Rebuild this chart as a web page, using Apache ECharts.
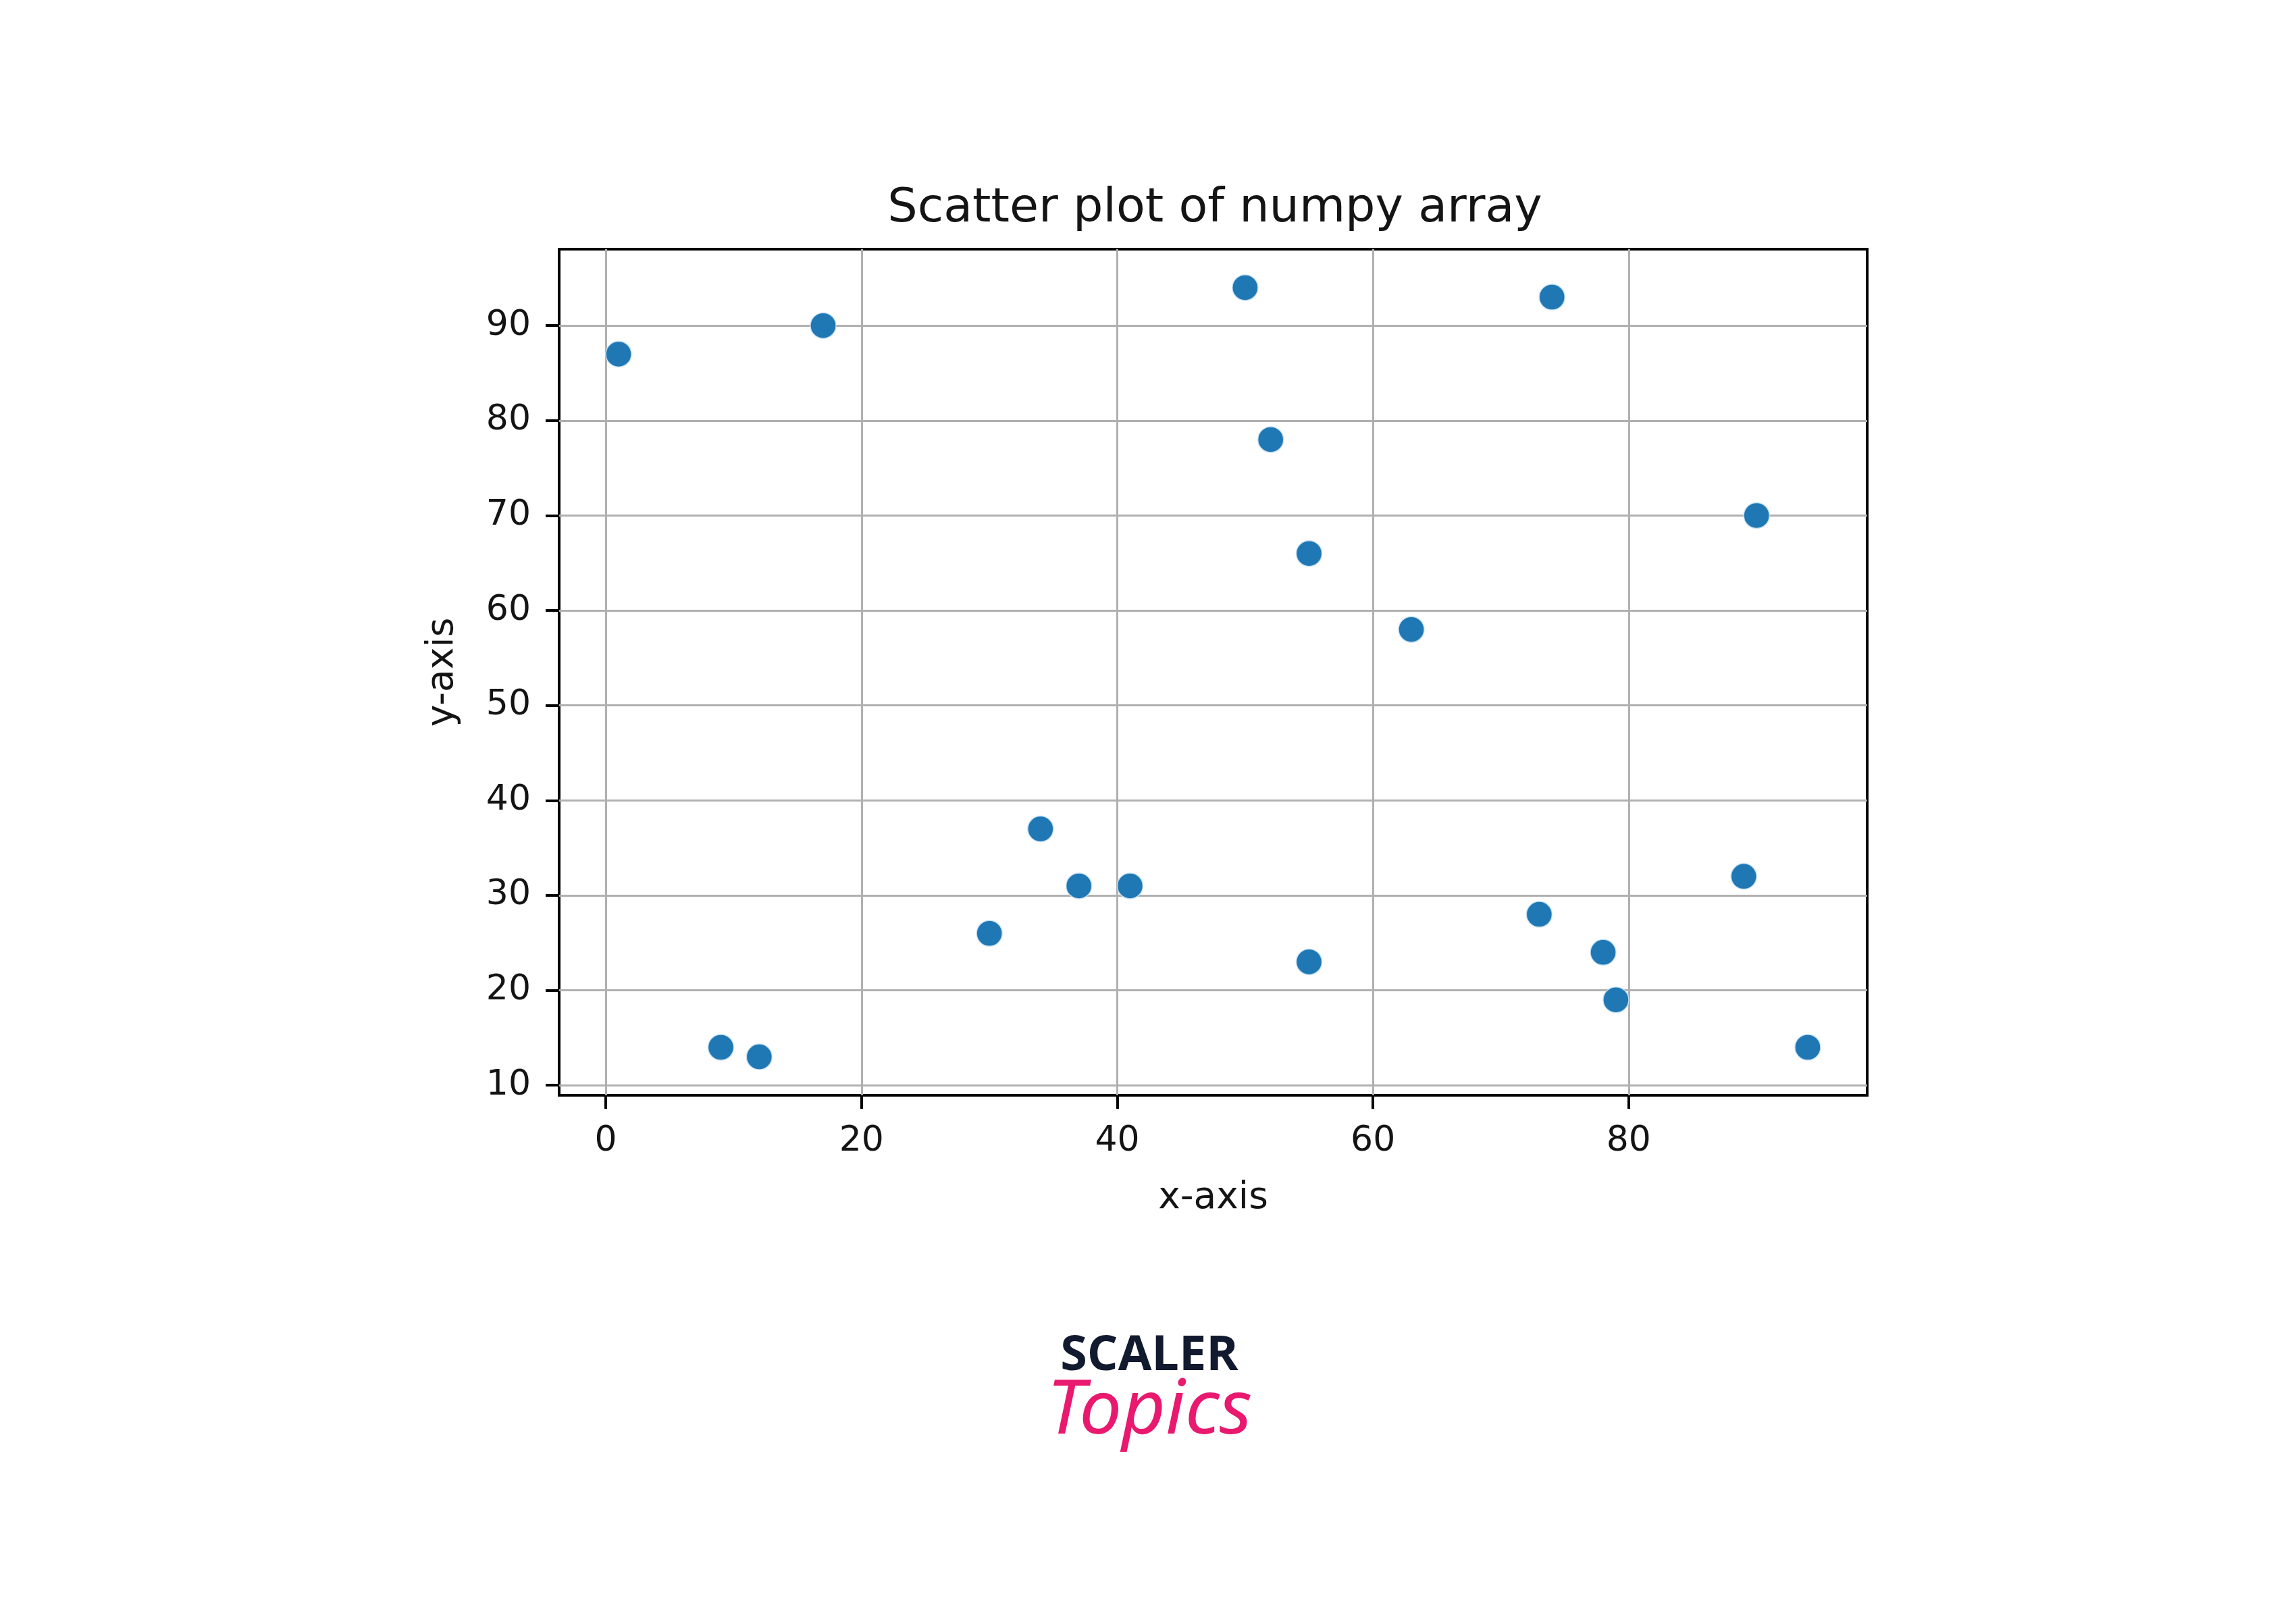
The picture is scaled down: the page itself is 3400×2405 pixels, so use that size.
<!DOCTYPE html>
<html>
<head>
<meta charset="utf-8">
<script src="https://cdn.jsdelivr.net/npm/echarts@6/dist/echarts.min.js"></script>
<style>html,body{margin:0;padding:0;background:#fff}#c{width:3400px;height:2405px}</style>
</head>
<body>
<div id="c"></div>
<script>
const xValues = [1, 9, 12, 17, 30, 34, 37, 41, 50, 52, 55, 55, 63, 73, 74, 78, 79, 89, 90, 94];
const yValues = [87, 14, 13, 90, 26, 37, 31, 31, 94, 78, 66, 23, 58, 28, 93, 24, 19, 32, 70, 14];
const xTicks = [0, 20, 40, 60, 80];
const yTicks = [10, 20, 30, 40, 50, 60, 70, 80, 90];
const titleText = 'Scatter plot of numpy array';
const xName = 'x-axis';
const yName = 'y-axis';

const points = xValues.map((x, i) => [x, yValues[i]]);
const font = 'DejaVu Sans';
const txt = '#141414';

const chart = echarts.init(document.getElementById('c'), null, {renderer: 'canvas'});
chart.setOption({
  backgroundColor: '#fff',
  animation: false,
  title: {
    text: titleText,
    left: 1794,
    top: 270,
    textAlign: 'center',
    textStyle: {fontFamily: font, fontSize: 70, fontWeight: 'normal', color: txt}
  },
  grid: {
    left: 828, right: 635, top: 369, bottom: 783,
    show: true, borderColor: '#000', borderWidth: 4, backgroundColor: 'transparent'
  },
  xAxis: {
    type: 'value', min: -3.65, max: 98.65, splitNumber: 5,
    name: xName, nameLocation: 'middle', nameGap: 125,
    nameTextStyle: {fontFamily: font, fontSize: 55, color: txt},
    axisLine: {show: false, onZero: false},
    axisTick: {show: true, customValues: xTicks, length: 20, lineStyle: {color: '#000', width: 4}},
    axisLabel: {customValues: xTicks, fontFamily: font, fontSize: 52, color: txt, margin: 42},
    splitLine: {show: true, lineStyle: {color: '#b0b0b0', width: 3}}
  },
  yAxis: {
    type: 'value', min: 8.95, max: 98.05, splitNumber: 9,
    name: yName, nameLocation: 'middle', nameGap: 145, nameMoveOverlap: false,
    nameTextStyle: {fontFamily: font, fontSize: 55, color: txt},
    axisLine: {show: false, onZero: false},
    axisTick: {show: true, customValues: yTicks, length: 20, lineStyle: {color: '#000', width: 4}},
    axisLabel: {customValues: yTicks, fontFamily: font, fontSize: 52, color: txt, margin: 42},
    splitLine: {show: true, lineStyle: {color: '#b0b0b0', width: 3}}
  },
  series: [{
    type: 'scatter',
    data: points,
    symbol: 'circle',
    symbolSize: 38,
    itemStyle: {color: '#1f77b4', opacity: 1, borderColor: 'rgba(200,225,245,0.9)', borderWidth: 1.5},
    z: 3
  }],
  graphic: [
    {type: 'text', x: 1702, y: 1972, z: 10,
      style: {text: 'SCALER', fontFamily: 'Open Sans', fontWeight: 'bold', fontSize: 72, fill: '#111a2e', textAlign: 'center'}},
    {type: 'text', x: 1702, y: 2035, z: 10,
      style: {text: 'Topics', fontFamily: 'Noto Sans', fontStyle: 'italic', fontSize: 112, fill: '#e8196e', textAlign: 'center'}}
  ]
});
</script>
</body>
</html>
